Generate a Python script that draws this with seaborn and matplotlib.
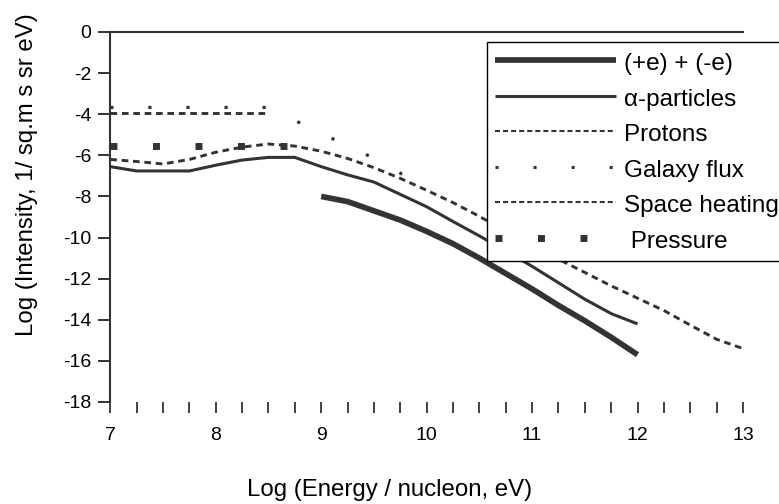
import matplotlib
matplotlib.use("Agg")
import matplotlib.pyplot as plt
import seaborn as sns
from matplotlib.lines import Line2D
from matplotlib.ticker import MultipleLocator, FixedLocator

# ---------------- data ----------------
labels = ["(+e) + (-e)", "\u03b1-particles", "Protons", "Galaxy flux", "Space heating", " Pressure"]

e_x = [9, 9.25, 9.5, 9.75, 10, 10.25, 10.5, 10.75, 11, 11.25, 11.5, 11.75, 12]
e_y = [-8.0, -8.25, -8.7, -9.15, -9.7, -10.3, -11.0, -11.75, -12.5, -13.3, -14.05, -14.85, -15.7]

alpha_x = [7, 7.25, 7.5, 7.75, 8, 8.25, 8.5, 8.75, 9, 9.25, 9.5, 9.75, 10, 10.25,
           10.5, 10.75, 11, 11.25, 11.5, 11.75, 12]
alpha_y = [-6.55, -6.76, -6.76, -6.76, -6.48, -6.23, -6.1, -6.1, -6.55, -6.95, -7.3,
           -7.9, -8.5, -9.22, -9.92, -10.65, -11.4, -12.2, -13.0, -13.7, -14.2]

protons_x = [7, 7.25, 7.5, 7.75, 8, 8.25, 8.5, 8.75, 9, 9.25, 9.5, 9.75, 10, 10.25,
             10.5, 10.75, 11, 11.25, 11.5, 11.75, 12, 12.25, 12.5, 12.75, 13]
protons_y = [-6.2, -6.3, -6.42, -6.2, -5.85, -5.6, -5.45, -5.55, -5.8, -6.15, -6.6,
             -7.12, -7.7, -8.3, -8.97, -9.7, -10.4, -11.05, -11.7, -12.35, -12.95,
             -13.55, -14.26, -14.95, -15.4]

galaxy_x = [7, 7.5, 8, 8.5, 9, 9.5, 10]
galaxy_y = [-3.67, -3.67, -3.67, -3.67, -4.93, -6.14, -7.6]

space_x = [7, 7.5, 8, 8.5]
space_y = [-3.95, -3.95, -3.95, -3.95]

pressure_x = [7, 7.5, 8, 8.5, 8.75]
pressure_y = [-5.55, -5.55, -5.55, -5.55, -5.55]

x_ticks = [7, 8, 9, 10, 11, 12, 13]
y_ticks = [0, -2, -4, -6, -8, -10, -12, -14, -16, -18]

# ---------------- style ----------------
sns.set_style("white")
plt.rcParams["font.family"] = ["Liberation Sans", "DejaVu Sans"]
plt.rcParams["lines.scale_dashes"] = False

C = "#333333"
W, H = 779, 504
fig = plt.figure(figsize=(W / 100, H / 100), dpi=100)
ax = fig.add_axes([110.3 / W, (H - 402) / H, 632.7 / W, 370 / H])

# styles (points)
st_e = dict(color=C, lw=4.1, solid_capstyle="butt")
st_a = dict(color=C, lw=2.2, solid_capstyle="butt")
st_p = dict(color=C, lw=2.1, linestyle=(0, (4.8, 3.4)), dash_capstyle="butt")
st_g = dict(color=C, lw=2.3, linestyle=(0, (2.3, 25.1)), dash_capstyle="butt")
st_s = dict(color=C, lw=2.1, linestyle=(0, (4.8, 3.4)), dash_capstyle="butt")
st_r = dict(color=C, lw=5.0, linestyle=(0, (5.0, 25.6)), dash_capstyle="butt")

sns.lineplot(x=space_x, y=space_y, ax=ax, sort=False, estimator=None, **st_s)
sns.lineplot(x=galaxy_x, y=galaxy_y, ax=ax, sort=False, estimator=None, **st_g)
sns.lineplot(x=pressure_x, y=pressure_y, ax=ax, sort=False, estimator=None, **st_r)
sns.lineplot(x=protons_x, y=protons_y, ax=ax, sort=False, estimator=None, **st_p)
sns.lineplot(x=alpha_x, y=alpha_y, ax=ax, sort=False, estimator=None, **st_a)
sns.lineplot(x=e_x, y=e_y, ax=ax, sort=False, estimator=None, **st_e)

ax.set_xlim(7, 13)
ax.set_ylim(-18, 0)

# spines
ax.spines["right"].set_visible(False)
ax.spines["bottom"].set_visible(False)
for s in ("top", "left"):
    ax.spines[s].set_color(C)
    ax.spines[s].set_linewidth(1.5)

# ticks
ax.xaxis.set_major_locator(FixedLocator(x_ticks))
ax.xaxis.set_minor_locator(MultipleLocator(0.25))
ax.yaxis.set_major_locator(FixedLocator(y_ticks))
ax.set_xticklabels([str(v) for v in x_ticks])
ax.set_yticklabels([str(v) for v in y_ticks])
ax.tick_params(axis="x", which="both", bottom=True, top=False, direction="out",
               length=7.9, width=1.3, color=C, pad=10, labelsize=14, labelcolor="black")
ax.tick_params(axis="y", which="both", left=True, right=False, direction="out",
               length=8.6, width=1.4, color=C, pad=5, labelsize=14, labelcolor="black")

# axis labels
ax.set_xlabel("Log (Energy / nucleon, eV)", fontsize=17.3, color="black")
ax.xaxis.set_label_coords((390 - 110.3) / 632.7, (402 - 490) / 370)
ax.xaxis.label.set_va("center")
ax.set_ylabel("Log (Intensity, 1/ sq.m s sr eV)", fontsize=17.3, color="black")
ax.yaxis.set_label_coords((27 - 110.3) / 632.7, (402 - 175) / 370)
ax.yaxis.label.set_va("center")

# legend
handles = [
    Line2D([], [], color=C, lw=4.1, solid_capstyle="butt"),
    Line2D([], [], color=C, lw=2.2, solid_capstyle="butt"),
    Line2D([], [], color=C, lw=1.5, linestyle=(0, (3.6, 2.2)), dash_capstyle="butt"),
    Line2D([], [], color=C, lw=2.2, linestyle=(0, (2.2, 25.2)), dash_capstyle="butt"),
    Line2D([], [], color=C, lw=1.5, linestyle=(0, (3.6, 2.2)), dash_capstyle="butt"),
    Line2D([], [], color=C, lw=5.0, linestyle=(0, (5.0, 25.6)), dash_capstyle="butt"),
]
FS = 17.5
PX = FS * 100 / 72
leg = ax.legend(handles, labels, loc="upper left",
                bbox_to_anchor=(487.3 / W, 1 - 42 / H), bbox_transform=fig.transFigure,
                frameon=True, fancybox=False, framealpha=1, edgecolor="black",
                borderaxespad=0, fontsize=FS, handlelength=121 / PX,
                handletextpad=8 / PX, borderpad=8 / PX, labelspacing=10.5 / PX,
                handleheight=27 / PX)
leg.get_frame().set_linewidth(1.0)
for t in leg.get_texts():
    t.set_color("black")

fig.savefig("out.png", dpi=100)
